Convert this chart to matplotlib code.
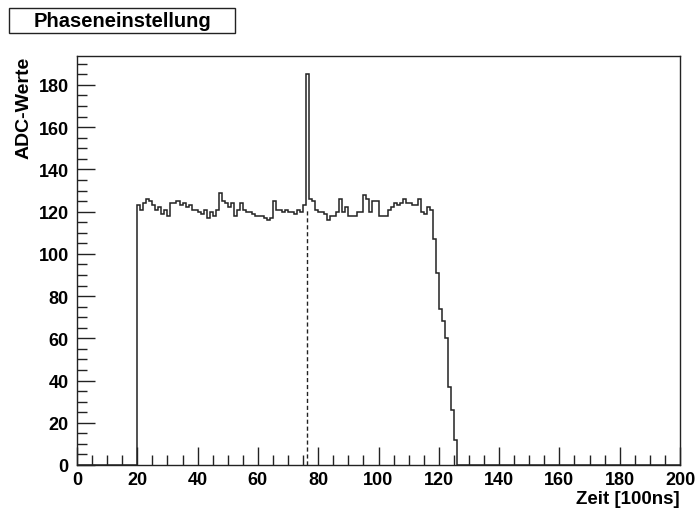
import matplotlib
matplotlib.use("Agg")
import matplotlib.pyplot as plt
from matplotlib.patches import Rectangle
from matplotlib.ticker import MultipleLocator
import numpy as np

plt.rcParams['font.family'] = ['Liberation Sans', 'DejaVu Sans']
plt.rcParams['font.weight'] = 'bold'

# histogram: 200 bins of width 1 from 0 to 200, non-zero from bin 20 to 125
first_bin = 20
adc_values = [
    123, 121, 124, 126, 125, 123, 121, 122, 119, 121,   # 20-29
    118, 124, 124, 125, 123, 124, 122, 123, 121, 121,   # 30-39
    120, 119, 121, 117, 120, 118, 121, 129, 125, 124,   # 40-49
    122, 124, 118, 121, 124, 121, 120, 120, 119, 118,   # 50-59
    118, 118, 117, 116, 117, 125, 121, 121, 120, 121,   # 60-69
    120, 120, 119, 121, 120, 123, 185, 126, 125, 121,   # 70-79
    120, 120, 119, 116, 118, 118, 120, 126, 120, 122,   # 80-89
    118, 118, 118, 120, 120, 128, 126, 120, 125, 125,   # 90-99
    118, 118, 118, 121, 122, 124, 123, 124, 126, 124,   # 100-109
    124, 123, 123, 126, 120, 119, 122, 121, 107, 91,    # 110-119
    74, 68, 60, 37, 26, 12,                             # 120-125
]
phase_x = 76.4      # chosen phase (dashed marker)
phase_y = 121

x_ticks = [0, 20, 40, 60, 80, 100, 120, 140, 160, 180, 200]
y_ticks = [0, 20, 40, 60, 80, 100, 120, 140, 160, 180]

edges = np.arange(0, 201)
counts = np.zeros(200)
counts[first_bin:first_bin + len(adc_values)] = adc_values

fig = plt.figure(figsize=(6.97, 5.10), dpi=100)
ax = fig.add_axes([77 / 697, 44 / 510, 603 / 697, 409 / 510])

ax.stairs(counts, edges, color='#222222', linewidth=1.1)
ax.plot([phase_x, phase_x], [0, phase_y], color='#222222', linewidth=1.0,
        linestyle=(0, (3, 2)))

ax.set_xlim(0, 200)
ax.set_ylim(0, 193.7)
ax.set_xticks(x_ticks)
ax.set_yticks(y_ticks)
ax.xaxis.set_minor_locator(MultipleLocator(5))
ax.yaxis.set_minor_locator(MultipleLocator(5))
ax.tick_params(which='major', direction='in', length=13, width=1.0,
               labelsize=13, pad=4, color='#222222')
ax.tick_params(which='minor', direction='in', length=7, width=1.0,
               color='#222222')
ax.tick_params(axis='y', pad=6)
for lbl in ax.get_xticklabels() + ax.get_yticklabels():
    lbl.set_fontweight('bold')
for sp in ax.spines.values():
    sp.set_linewidth(1.0)
    sp.set_color('#222222')

ax.set_xlabel('Zeit [100ns]', fontsize=13.5, fontweight='bold', loc='right',
              labelpad=2)
ax.set_ylabel('ADC-Werte', fontsize=14, fontweight='bold', loc='top',
              labelpad=4)

# title box
fig.patches.append(Rectangle((9 / 697, 1 - 34 / 510), 226 / 697, 25 / 510,
                             transform=fig.transFigure, facecolor='white',
                             edgecolor='#222222', linewidth=1.0))
fig.text(122 / 697, 1 - 21.5 / 510, 'Phaseneinstellung', fontsize=14.5,
         fontweight='bold', ha='center', va='center')

fig.savefig('out.png', dpi=100)
